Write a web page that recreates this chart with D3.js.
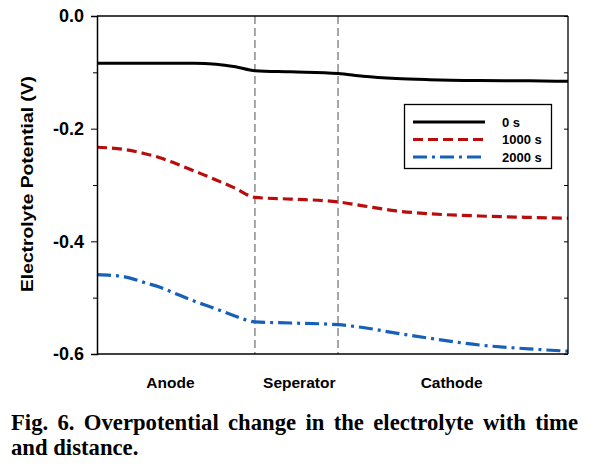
<!DOCTYPE html>
<html><head><meta charset="utf-8">
<script src="https://cdn.jsdelivr.net/npm/d3@7"></script>
<style>body{margin:0;background:#fff}svg{display:block}</style>
</head><body>
<svg id="c" width="596" height="468"></svg>
<script>
// distance (arbitrary units across cell), anode 0-57, separator 57-87, cathode 87-170
const xDist = [0,10,17,23,28,35,43,50,57,70,87,96,108,120,138,156,170];
const v0s    = [-0.084,-0.084,-0.084,-0.084,-0.084,-0.084,-0.0855,-0.090,-0.097,-0.099,-0.102,-0.107,-0.111,-0.113,-0.1145,-0.115,-0.116];
const v1000s = [-0.233,-0.237,-0.244,-0.252,-0.261,-0.275,-0.291,-0.306,-0.322,-0.325,-0.330,-0.337,-0.346,-0.351,-0.355,-0.3575,-0.359];
const v2000s = [-0.459,-0.463,-0.473,-0.482,-0.492,-0.506,-0.520,-0.533,-0.543,-0.545,-0.548,-0.553,-0.563,-0.572,-0.584,-0.591,-0.595];
const seriesNames = ["0 s","1000 s","2000 s"];
const boundaries = [57,87];
const regions = ["Anode","Seperator","Cathode"];
const regionCenters = [26.5,73,128];
const yTicks = [0,-0.2,-0.4,-0.6];
const yMinor = [-0.1,-0.3,-0.5];
const caption1 = "Fig. 6. Overpotential change in the electrolyte with time";
const caption2 = "and distance.";

const svg = d3.select("#c");
const L=97,R=568,T=16,B=354;
const x = d3.scaleLinear().domain([0,170]).range([L,R]);
const y = d3.scaleLinear().domain([-0.6,0]).range([B,T]);
const sans = "Arial, 'Liberation Sans', sans-serif";

const styles = [
  {color:"#000000", dash:null, w:3},
  {color:"#b80d0d", dash:"10,5", w:3.2},
  {color:"#1560b8", dash:"14,5,3,5", w:3.2}
];
const allSeries=[v0s,v1000s,v2000s];

// separator lines
svg.selectAll("line.sep").data(boundaries).enter().append("line")
  .attr("x1",d=>x(d)).attr("x2",d=>x(d)).attr("y1",T).attr("y2",B)
  .attr("stroke","#8a8a8a").attr("stroke-width",1.5).attr("stroke-dasharray","8,4");

// lines
const line = d3.line().x((d,i)=>x(xDist[i])).y(d=>y(d)).curve(d3.curveMonotoneX);
allSeries.forEach((s,k)=>{
  svg.append("path").attr("d",line(s)).attr("fill","none")
    .attr("stroke",styles[k].color).attr("stroke-width",styles[k].w)
    .attr("stroke-dasharray",styles[k].dash);
});

// frame
svg.append("line").attr("x1",L).attr("x2",R).attr("y1",T).attr("y2",T).attr("stroke","#000").attr("stroke-width",1.3);
svg.append("line").attr("x1",R).attr("x2",R).attr("y1",T).attr("y2",B).attr("stroke","#000").attr("stroke-width",1.3);
svg.append("line").attr("x1",L).attr("x2",R).attr("y1",B).attr("y2",B).attr("stroke","#000").attr("stroke-width",1.5);

// y axis
const yAx = svg.append("g").attr("transform",`translate(${L},0)`)
  .call(d3.axisLeft(y).tickValues(yTicks).tickFormat(d3.format(".1f")).tickSize(6).tickPadding(7));
yAx.select(".domain").attr("stroke-width",1.5);
yAx.selectAll("text").attr("font-family",sans).attr("font-weight","bold").attr("font-size",18).attr("fill","#000");
yAx.selectAll("text").text(d=>d===0?"0.0":d3.format(".1f")(d).replace("−","-"));
svg.append("g").attr("transform",`translate(${L},0)`)
  .call(d3.axisLeft(y).tickValues(yMinor).tickSize(4).tickFormat(""))
  .select(".domain").remove();
// mirrored inside ticks on right
svg.append("g").attr("transform",`translate(${R},0)`)
  .call(d3.axisRight(y).tickValues(yTicks.concat(yMinor)).tickSize(-4).tickFormat(""))
  .select(".domain").remove();

// y label
svg.append("text").attr("transform","rotate(-90)").attr("x",-184).attr("y",27).attr("dy","0.35em")
  .attr("text-anchor","middle").attr("font-family",sans).attr("font-weight","bold").attr("font-size",16.5)
  .attr("textLength",216).attr("lengthAdjust","spacingAndGlyphs")
  .text("Electrolyte Potential (V)");

// region labels
svg.selectAll("text.reg").data(regions).enter().append("text")
  .attr("x",(d,i)=>x(regionCenters[i])).attr("y",388).attr("text-anchor","middle")
  .attr("font-family",sans).attr("font-weight","bold").attr("font-size",15.5).text(d=>d);

// legend
const lg = svg.append("g");
lg.append("rect").attr("x",404.5).attr("y",104.5).attr("width",147).attr("height",64)
  .attr("fill","#fff").attr("stroke","#000").attr("stroke-width",1.3);
seriesNames.forEach((n,k)=>{
  const yy = 122 + k*17.5;
  lg.append("line").attr("x1",413).attr("x2",485).attr("y1",yy).attr("y2",yy)
    .attr("stroke",styles[k].color).attr("stroke-width",styles[k].w).attr("stroke-dasharray",styles[k].dash);
  lg.append("text").attr("x",502).attr("y",yy+4.5).attr("font-family",sans).attr("font-weight","bold")
    .attr("font-size",13).text(n);
});

// caption, justified first line
const serif = "'Times New Roman','Liberation Serif',serif";
const capSize = 22.7;
function justified(str, x0, x1, yb){
  const words = str.split(" ");
  const nodes = words.map(w=>svg.append("text").attr("y",yb).attr("font-family",serif)
    .attr("font-weight","bold").attr("font-size",capSize).text(w));
  const widths = nodes.map(n=>n.node().getComputedTextLength());
  const total = d3.sum(widths);
  const gap = (x1-x0-total)/(words.length-1);
  let cx = x0;
  nodes.forEach((n,i)=>{n.attr("x",cx); cx += widths[i]+gap;});
}
justified(caption1, 11, 578, 430);
svg.append("text").attr("x",11).attr("y",455).attr("font-family",serif).attr("font-weight","bold")
  .attr("font-size",capSize).text(caption2);
</script>
</body></html>
